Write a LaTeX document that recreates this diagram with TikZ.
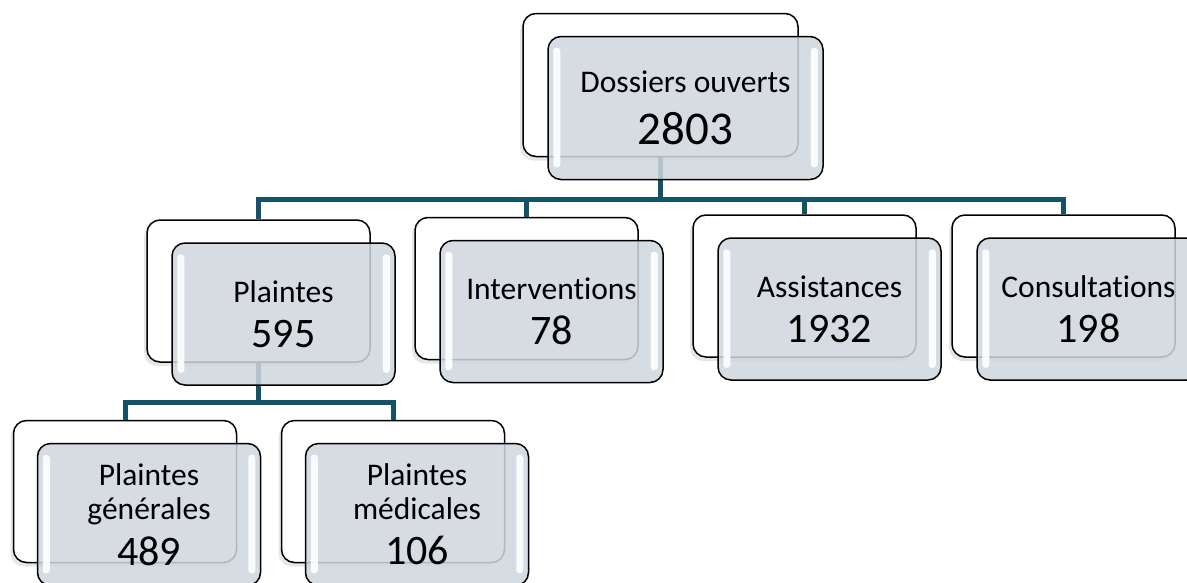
\documentclass[tikz,border=0pt]{standalone}
\usepackage{fontspec}
\setmainfont[Ligatures=NoCommon]{Carlito}
\usetikzlibrary{positioning,shadows}
\definecolor{bleulien}{RGB}{20,82,104}
\definecolor{grisboite}{RGB}{207,215,221}
\newcommand{\etiq}{\fontsize{31.5}{34}\selectfont}
\newcommand{\nombre}{\fontsize{42}{45}\selectfont}
\newcommand{\grandnombre}{\fontsize{47}{52}\selectfont}

\begin{document}
\begin{tikzpicture}[x=1pt, y=-1pt,
    fond/.style={draw, line width=1.5pt, rounded corners=13pt, fill=white,
       minimum width=223pt, minimum height=142pt, inner sep=0pt,
       drop shadow={shadow xshift=-3pt, shadow yshift=-4pt, opacity=.2}},
    boite/.style={draw, line width=1.5pt, rounded corners=13pt, fill=grisboite,
       fill opacity=.85, text opacity=1, minimum width=223pt, minimum height=142pt,
       inner sep=0pt, align=center, font=\etiq},
    lien/.style={draw=bleulien, line width=5pt},
    reflet/.style={fill=white, fill opacity=.9, rounded corners=3pt}]
    \useasboundingbox (0,0) rectangle (1187,582);

    % boites du fond
    \node [fond, minimum width=275pt, minimum height=143pt] (dos) at (660.5,85) {};
    \node [fond] (pla) at (258.5,291) {};
    \node [fond] (int) at (526.5,288.5) {};
    \node [fond] (ass) at (804.5,286) {};
    \node [fond] (con) at (1063.5,286) {};
    \node [fond] (gen) at (125,491.5) {};
    \node [fond] (med) at (393,491.5) {};

    % liens
    \foreach \c in {pla,int,ass,con}
    {
       \draw [lien](dos.south) -- ++(0,42) -| (\c.north);
    }
    \foreach \c in {gen,med}
    {
       \draw [lien](pla.south) -- ++(0,40) -| (\c.north);
    }

    % boites du devant
    \node [boite, minimum width=275pt, minimum height=143pt] (dosF) at ([shift={(25,23)}]dos.center)
       {Dossiers ouverts\\[18pt]\grandnombre 2803};
    \node [boite] (plaF) at ([shift={(25,23)}]pla.center) {Plaintes\\[11pt]\nombre 595};
    \node [boite] (intF) at ([shift={(25,23)}]int.center) {Interventions\\[11pt]\nombre 78};
    \node [boite] (assF) at ([shift={(25,23)}]ass.center) {Assistances\\[11pt]\nombre 1932};
    \node [boite] (conF) at ([shift={(25,23)}]con.center) {Consultations\\[11pt]\nombre 198};
    \node [boite] (genF) at ([shift={(24,23)}]gen.center) {Plaintes\\générales\\[11pt]\nombre 489};
    \node [boite] (medF) at ([shift={(24,23)}]med.center) {Plaintes\\médicales\\[11pt]\nombre 106};

    \foreach \b in {dosF,plaF,intF,assF,conF,genF,medF}
    {
       \fill [reflet]([shift={(6,12)}]\b.north west) rectangle ([shift={(13,-13)}]\b.south west);
       \fill [reflet]([shift={(-13,12)}]\b.north east) rectangle ([shift={(-6,-13)}]\b.south east);
    }
\end{tikzpicture}
\end{document}
